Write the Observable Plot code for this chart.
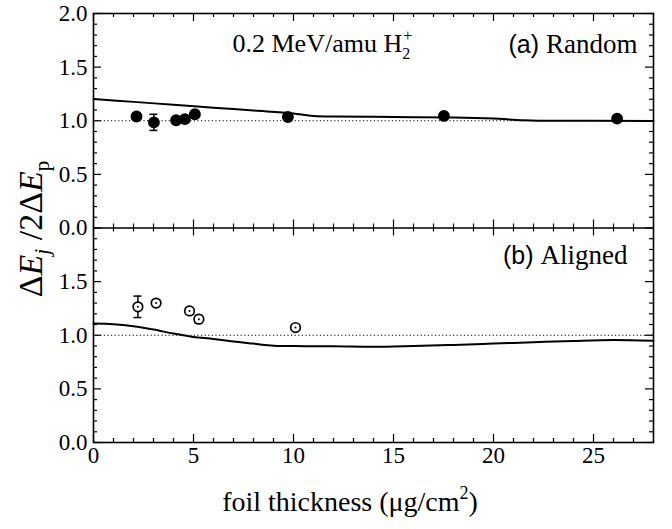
<!DOCTYPE html>
<html><head><meta charset="utf-8">
<script src="https://cdn.jsdelivr.net/npm/d3@7"></script>
<script src="https://cdn.jsdelivr.net/npm/@observablehq/plot@0.6"></script>
<style>body{margin:0;background:#fff}</style>
</head><body><div id="chart"></div>
<script>
// ---- data ----
const panels = ["a", "b"];
const randomX = [2.15, 3.02, 4.13, 4.57, 5.07, 9.72, 17.52, 26.18];
const randomY = [1.04, 0.985, 1.005, 1.015, 1.06, 1.035, 1.045, 1.02];
const randomErr = [0, 0.075, 0, 0, 0, 0, 0, 0];
const alignedX = [2.22, 3.13, 4.8, 5.27, 10.1];
const alignedY = [1.265, 1.30, 1.227, 1.15, 1.072];
const alignedErr = [0.1, 0, 0.03, 0.035, 0];
const curveAX = [0, 2, 4, 6, 8, 10, 11, 12, 14, 16, 18, 20, 21.5, 23, 25, 28];
const curveAY = [1.203, 1.176, 1.149, 1.122, 1.095, 1.068, 1.045, 1.04, 1.037, 1.033, 1.03, 1.02, 1.005, 1.0, 1.0, 0.997];
const curveBX = [0, 1, 2, 3, 4, 5, 6, 7, 8, 9, 10, 12, 14, 16, 18, 20, 22, 24, 26, 28];
const curveBY = [1.109, 1.103, 1.084, 1.053, 1.016, 0.984, 0.966, 0.941, 0.922, 0.903, 0.899, 0.897, 0.893, 0.9, 0.91, 0.922, 0.935, 0.947, 0.955, 0.948];
const yTickLabelsA = [0, 0.5, 1.0, 1.5, 2.0];
const yTickLabelsB = [0, 0.5, 1.0, 1.5];
const xTickLabels = [0, 5, 10, 15, 20, 25];
const xDomain = [0, 28];
const panelSpan = 2;               // each panel shows 0..2
const offset = {a: 2, b: 0};       // stacking: panel a above panel b

(function () {
// ---- build tables ----
const randomPts = randomX.map((x, i) => ({panel: "a", x, y: randomY[i], e: randomErr[i]}));
const alignedPts = alignedX.map((x, i) => ({panel: "b", x, y: alignedY[i], e: alignedErr[i]}));
const curveA = curveAX.map((x, i) => ({panel: "a", x, y: curveAY[i]}));
const curveB = curveBX.map((x, i) => ({panel: "b", x, y: curveBY[i]}));
const errRows = [...randomPts, ...alignedPts].filter(d => d.e > 0);
const capRows = errRows.flatMap(d => [{...d, cy: d.y - d.e}, {...d, cy: d.y + d.e}]);
const Y = d => d.y + offset[d.panel];

const xMajor = d3.range(0, 29, 5), xMinor = d3.range(1, 28, 1).filter(v => v % 5 !== 0);
const yAll = d3.range(0, 41).map(i => ({v: i / 10, major: i % 5 === 0}));
const yMajor = yAll.filter(d => d.major), yMinor = yAll.filter(d => !d.major);

const yLabelRows = [...yTickLabelsA.map(v => ({panel: "a", v})), ...yTickLabelsB.map(v => ({panel: "b", v}))];

// tick lengths in data units (8px / 4px)
const TX = 8 / 20, TXm = 4 / 20;
const TY = 8 / 107.25, TYm = 4 / 107.25;
const yTop = 2 * panelSpan, yMid = panelSpan;
const tk = {stroke: "#000", strokeWidth: 1.2};

const chart = Plot.plot({
  width: 672, height: 529,
  marginLeft: 93, marginRight: 19, marginTop: 13, marginBottom: 87,
  style: {fontFamily: "Liberation Serif, Times New Roman, serif", background: "#fff", color: "#000"},
  x: {domain: xDomain, axis: null},
  y: {domain: [0, 2 * panelSpan], axis: null},
  marks: [
    Plot.ruleY(panels, {y: p => 1 + offset[p], stroke: "#000", strokeWidth: 1, strokeDasharray: "1.2,2.4"}),
    Plot.line(curveA, {x: "x", y: Y, curve: "monotone-x", stroke: "#000", strokeWidth: 2}),
    Plot.line(curveB, {x: "x", y: Y, curve: "monotone-x", stroke: "#000", strokeWidth: 2}),
    Plot.ruleX(errRows, {x: "x", y1: d => Y(d) - d.e, y2: d => Y(d) + d.e, stroke: "#000", strokeWidth: 1.5}),
    Plot.ruleY(capRows, {y: d => d.cy + offset[d.panel], x1: d => d.x - 0.2, x2: d => d.x + 0.2, stroke: "#000", strokeWidth: 1.5}),
    Plot.dot(randomPts, {x: "x", y: Y, r: 5.2, fill: "#000", stroke: "#000"}),
    Plot.dot(alignedPts, {x: "x", y: Y, r: 4.8, fill: "#fff", stroke: "#000", strokeWidth: 1.7}),
    Plot.dot(alignedPts, {x: "x", y: Y, r: 1, fill: "#000"}),
    // inward ticks
    Plot.ruleX(xMajor, {...tk, x: d => d, y1: 0, y2: TY}),
    Plot.ruleX(xMinor, {...tk, x: d => d, y1: 0, y2: TYm}),
    Plot.ruleX(xMajor, {...tk, x: d => d, y1: yMid - TY, y2: yMid + TY}),
    Plot.ruleX(xMinor, {...tk, x: d => d, y1: yMid - TYm, y2: yMid + TYm}),
    Plot.ruleX(xMajor, {...tk, x: d => d, y1: yTop, y2: yTop - TY}),
    Plot.ruleX(xMinor, {...tk, x: d => d, y1: yTop, y2: yTop - TYm}),
    Plot.ruleY(yMajor, {...tk, y: "v", x1: 0, x2: TX}),
    Plot.ruleY(yMinor, {...tk, y: "v", x1: 0, x2: TXm}),
    Plot.ruleY(yMajor, {...tk, y: "v", x1: 28, x2: 28 - TX}),
    Plot.ruleY(yMinor, {...tk, y: "v", x1: 28, x2: 28 - TXm}),
    Plot.ruleY([yMid], {stroke: "#000", strokeWidth: 1.6}),
    Plot.frame({stroke: "#000", strokeWidth: 1.6}),
    Plot.text(yLabelRows, {x: 0, y: d => d.v + offset[d.panel], text: d => d.v.toFixed(1), dx: -6, textAnchor: "end", fontSize: 23, fill: "#000"}),
    Plot.text(xTickLabels, {x: d => d, y: 0, text: d => String(d), dy: 4, lineAnchor: "top", fontSize: 23, fill: "#000"}),
    Plot.text(["0.2 MeV/amu H2+"], {text: d => d, frameAnchor: "top-left", dx: 139, dy: 20, textAnchor: "start", fontSize: 26, fill: "#000", className: "lbl-title"}),
    Plot.text(["(a) Random"], {text: d => d, frameAnchor: "top-right", dx: -16, dy: 20, textAnchor: "end", fontSize: 27, fill: "#000", className: "lbl-a"}),
    Plot.text(["(b) Aligned"], {text: d => d, frameAnchor: "top-right", dx: -26, dy: 231, textAnchor: "end", fontSize: 27, fill: "#000", className: "lbl-b"})
  ]
});

const svg = d3.select(chart);
// rich text formatting
svg.selectAll(".lbl-title text").each(function() {
  const t = d3.select(this); t.text("");
  t.append("tspan").text("0.2 MeV/amu H");
  t.append("tspan").attr("font-size", 16).attr("dy", 7).text("2");
  t.append("tspan").attr("font-size", 16).attr("dx", -7).attr("dy", -18).text("+");
});
function sansPrefix(sel, a, b) {
  svg.selectAll(sel + " text").each(function() {
    const t = d3.select(this); t.text("");
    t.append("tspan").attr("font-family", "Liberation Sans, Arial, sans-serif").attr("font-size", 25).text(a);
    t.append("tspan").text(b);
  });
}
sansPrefix(".lbl-a", "(a) ", "Random");
sansPrefix(".lbl-b", "(b) ", "Aligned");

// y axis label
const yl = svg.append("text").attr("transform", "translate(42,229) rotate(-90)")
  .attr("text-anchor", "middle").attr("font-size", 34).attr("fill", "#000")
  .attr("font-family", "Liberation Serif, serif");
yl.append("tspan").text("Δ");
yl.append("tspan").attr("font-style", "italic").text("E");
yl.append("tspan").attr("font-style", "italic").attr("font-size", 21).attr("dy", 7).text("j");
yl.append("tspan").attr("dy", -7).text(" /2Δ");
yl.append("tspan").attr("font-style", "italic").text("E");
yl.append("tspan").attr("font-size", 21).attr("dy", 7).text("p");

// x axis label
const xl = svg.append("text").attr("x", 350).attr("y", 511)
  .attr("text-anchor", "middle").attr("font-size", 28).attr("fill", "#000")
  .attr("font-family", "Liberation Serif, serif");
xl.append("tspan").text("foil thickness (μg/cm");
xl.append("tspan").attr("font-size", 18).attr("dy", -12).text("2");
xl.append("tspan").attr("dy", 12).text(")");

document.getElementById("chart").appendChild(chart);
})();
</script>
</body></html>
